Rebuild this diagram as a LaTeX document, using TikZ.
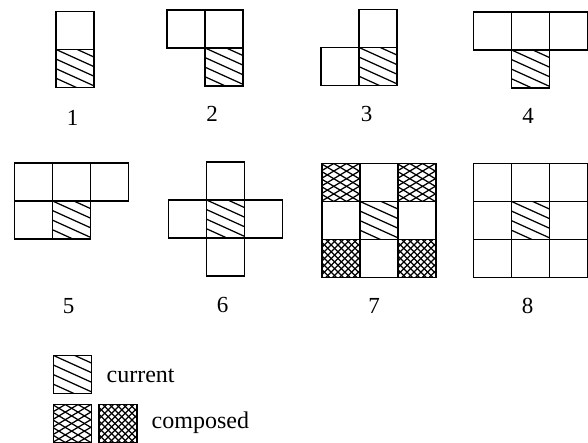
\documentclass[tikz,border=0pt]{standalone}
\usepackage{fontspec}
\setmainfont{Liberation Serif}
\newcommand{\hatchCur}[2]{%
  \begin{scope}
    \clip (#1,#2) rectangle ++(38,38);
    \foreach \k in {-2,...,4} \draw[hl] (#1-1,{#2+\k*9.6-0.5}) -- ++(42,19);
  \end{scope}}
\newcommand{\hatchCompA}[2]{%
  \begin{scope}
    \clip (#1,#2) rectangle ++(38,38);
    \foreach \k in {-4,...,9} {
      \draw[hl] (#1-1,{#2+\k*7.6}) -- ++(42,25);
      \draw[hl] (#1-1,{#2+\k*7.6}) -- ++(42,-25);
    }
  \end{scope}}
\newcommand{\hatchCompB}[2]{%
  \begin{scope}
    \clip (#1,#2) rectangle ++(38,38);
    \foreach \k in {-6,...,12} {
      \draw[hl] (#1-1,{#2+\k*6.8+2}) -- ++(42,42);
      \draw[hl] (#1-1,{#2+\k*6.8+2}) -- ++(42,-42);
    }
  \end{scope}}
\begin{document}
\begin{tikzpicture}[x=1pt,y=-1pt,
  cell/.style={draw=black,line width=1.6pt},
  hl/.style={draw=black,line width=1.25pt},
  lbl/.style={font=\fontsize{23}{27}\selectfont,inner sep=0pt},
  legtext/.style={font=\fontsize{24}{28}\selectfont,inner sep=0pt,anchor=base west}]
\useasboundingbox (0,0) rectangle (588,442);
% hatches
\foreach \x/\y in {56/49.5,205/48,359/47.5,511.5/50,52.5/201,206.5/200,360/201.5,511.5/201.5,53.5/355.5}
  \hatchCur{\x}{\y};
\foreach \x/\y in {322/163.5,398/163.5,53.5/404.5}
  \hatchCompA{\x}{\y};
\foreach \x/\y in {322/239.5,398/239.5,99/404.5}
  \hatchCompB{\x}{\y};
% cells
\foreach \x/\y in {56/11.5,56/49.5,
  167/10,205/10,205/48,
  359/9.5,321/47.5,359/47.5,
  473.5/12,511.5/12,549.5/12,511.5/50,
  14.5/163,52.5/163,90.5/163,14.5/201,52.5/201,
  206.5/162,168.5/200,206.5/200,244.5/200,206.5/238,
  53.5/355.5,53.5/404.5,99/404.5}
  \draw[cell] (\x,\y) rectangle ++(38,38);
\foreach \x in {322,360,398} \foreach \y in {163.5,201.5,239.5}
  \draw[cell] (\x,\y) rectangle ++(38,38);
\foreach \x in {473.5,511.5,549.5} \foreach \y in {163.5,201.5,239.5}
  \draw[cell] (\x,\y) rectangle ++(38,38);
% labels
\node[lbl] (l1) at (72.5,118) {1};
\node[lbl] (l2) at (212,114) {2};
\node[lbl] (l3) at (366.5,113.5) {3};
\node[lbl] (l4) at (528,116) {4};
\node[lbl] (l5) at (68.5,306.5) {5};
\node[lbl] (l6) at (222.5,305) {6};
\node[lbl] (l7) at (374,305.5) {7};
\node[lbl] (l8) at (527.5,305.5) {8};
\node[legtext] (tcur) at (106.5,382.5) {current};
\node[legtext] (tcomp) at (151.5,428.5) {composed};
\end{tikzpicture}
\end{document}
